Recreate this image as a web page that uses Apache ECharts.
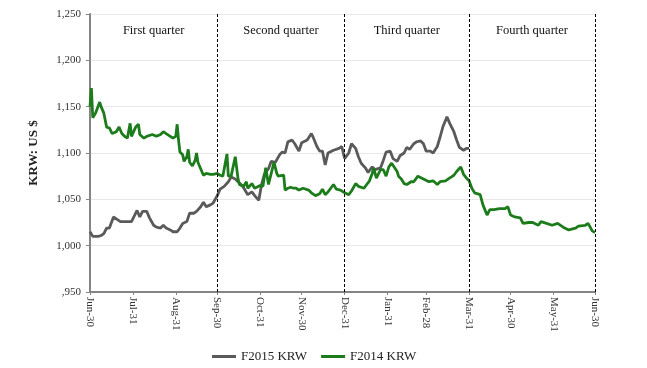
<!DOCTYPE html>
<html>
<head>
<meta charset="utf-8">
<script src="https://cdn.jsdelivr.net/npm/echarts@6/dist/echarts.min.js"></script>
<style>html,body{margin:0;padding:0;background:#fff}#c{width:647px;height:368px}</style>
</head>
<body>
<div id="c"></div>
<script>
// Day offsets from Jun-30 (start of fiscal year) and their labels
const tickDays = [0, 31, 62, 92, 123, 153, 184, 215, 243, 274, 304, 335, 365];
const tickLabels = ['Jun-30','Jul-31','Aug-31','Sep-30','Oct-31','Nov-30','Dec-31','Jan-31','Feb-28','Mar-31','Apr-30','May-31','Jun-30'];
const yTickLabels = [',950','1,000','1,050','1,100','1,150','1,200','1,250'];
const quarterNames = ['First quarter','Second quarter','Third quarter','Fourth quarter'];
const quarterBounds = [0, 92, 184, 274, 365];

// F2015 KRW: [day, value]
const f2015Days = [0,2,6,8,10,12,14,17,19,22,24,25,28,30,31,34,36,38,41,43,46,48,51,53,55,58,60,63,65,67,70,72,75,77,80,82,84,87,89,92,94,97,100,102,105,107,110,112,114,117,119,122,124,126,129,131,134,137,139,141,143,146,148,151,153,157,160,161,164,166,168,170,172,176,180,182,184,187,189,192,194,196,199,201,204,206,210,212,214,217,219,222,224,227,229,231,234,236,239,241,243,246,248,251,253,255,258,260,263,265,267,270,272,274];
const f2015Vals = [1015,1010,1010,1011,1013,1019,1019,1031,1029,1026,1026,1028,1026,1026,1025,1038,1031,1037,1037,1030,1022,1020,1019,1022,1019,1017,1015,1015,1019,1024,1026,1035,1035,1037,1042,1047,1042,1044,1046,1054,1061,1064,1069,1074,1072,1069,1065,1060,1055,1058,1054,1049,1066,1077,1083,1091,1090,1098,1101,1100,1112,1114,1110,1102,1111,1114,1121,1118,1107,1102,1102,1087,1100,1103,1105,1107,1094,1100,1110,1105,1096,1089,1084,1079,1085,1082,1084,1092,1101,1102,1094,1091,1097,1100,1106,1104,1110,1112,1113,1110,1102,1102,1100,1107,1117,1128,1139,1132,1123,1114,1106,1103,1105,1105];

// F2014 KRW: [day, value]
const f2014Days = [0,1,2,4,5,7,8,10,12,13,14,16,17,19,21,23,25,27,29,30,31,33,35,36,39,41,45,46,48,51,53,55,58,60,62,63,64,65,66,67,68,70,71,72,74,76,77,78,80,82,84,87,89,92,94,96,99,100,102,105,107,108,111,113,114,117,119,120,123,125,127,129,130,133,135,136,137,140,141,143,145,147,149,151,154,158,159,160,163,166,168,170,172,174,176,178,181,183,184,187,189,192,194,198,200,202,204,205,207,210,212,214,216,218,219,222,223,225,227,229,230,232,234,237,241,245,248,251,253,257,259,261,263,265,266,268,270,272,274,276,278,282,284,287,289,292,296,300,301,302,304,307,311,313,317,320,324,326,330,334,338,342,346,347,351,353,354,358,360,363,365];
const f2014Vals = [1150,1170,1138,1143,1143,1155,1150,1143,1128,1130,1127,1121,1119,1123,1128,1121,1118,1116,1132,1118,1120,1128,1131,1120,1116,1118,1120,1121,1118,1120,1123,1121,1118,1116,1118,1131,1114,1101,1100,1098,1091,1096,1104,1090,1086,1092,1100,1090,1083,1076,1078,1077,1077,1078,1076,1075,1099,1075,1075,1096,1072,1066,1064,1069,1062,1067,1062,1063,1065,1064,1084,1066,1072,1090,1078,1075,1074,1076,1060,1062,1063,1062,1062,1060,1062,1060,1058,1057,1054,1056,1061,1055,1058,1062,1066,1061,1060,1058,1057,1055,1059,1067,1064,1062,1066,1070,1078,1084,1073,1082,1082,1075,1085,1089,1089,1080,1075,1072,1067,1066,1066,1069,1069,1075,1072,1069,1070,1066,1069,1070,1072,1074,1076,1080,1082,1085,1077,1073,1070,1062,1057,1055,1044,1033,1039,1039,1040,1040,1041,1042,1033,1031,1030,1024,1025,1025,1022,1026,1024,1022,1024,1020,1017,1017,1019,1021,1022,1022,1024,1016,1014];

const serif = "'Liberation Serif', 'Times New Roman', serif";
const categories = Array.from({length: tickDays[tickDays.length - 1] + 1}, (_, i) => String(i));
const labelMap = {};
tickDays.forEach((d, i) => { labelMap[d] = tickLabels[i]; });
const isTick = (i) => Object.prototype.hasOwnProperty.call(labelMap, i);
const pair = (days, vals) => days.map((d, i) => [d, vals[i]]);

const chart = echarts.init(document.getElementById('c'));
chart.setOption({
  animation: false,
  backgroundColor: '#fff',
  grid: { left: 90, right: 52, top: 14, bottom: 76, containLabel: false },
  legend: {
    bottom: 5,
    left: 212,
    padding: 0,
    itemGap: 14,
    icon: 'rect',
    itemWidth: 24,
    itemHeight: 3,
    textStyle: { fontFamily: serif, fontSize: 13, color: '#222' },
    data: ['F2015 KRW', 'F2014 KRW']
  },
  xAxis: {
    type: 'category',
    data: categories,
    boundaryGap: false,
    axisLine: { lineStyle: { color: '#858585', width: 2 } },
    axisTick: { show: true, interval: (i) => isTick(i), length: 3, lineStyle: { color: '#858585' } },
    axisLabel: {
      interval: (i) => isTick(i),
      formatter: (v, i) => labelMap[i] || '',
      rotate: -90,
      margin: 5,
      fontFamily: serif,
      fontSize: 11,
      color: '#333'
    },
    splitLine: { show: false }
  },
  yAxis: {
    type: 'value',
    min: 950,
    max: 1250,
    interval: 50,
    name: 'KRW: US $',
    nameLocation: 'middle',
    nameGap: 50,
    nameTextStyle: { fontFamily: serif, fontSize: 13, fontWeight: 'bold', color: '#222' },
    axisLine: { show: true, lineStyle: { color: '#858585', width: 2 } },
    axisTick: { show: true, length: 4, lineStyle: { color: '#858585' } },
    axisLabel: {
      formatter: (v) => yTickLabels[Math.round((v - 950) / 50)],
      margin: 9,
      fontFamily: serif,
      fontSize: 11,
      color: '#333'
    },
    splitLine: { show: true, lineStyle: { color: '#e8e8e8', width: 1 } }
  },
  series: [
    {
      name: 'F2015 KRW',
      type: 'line',
      data: pair(f2015Days, f2015Vals),
      showSymbol: false,
      symbol: 'none',
      lineStyle: { color: '#5a5a5a', width: 2.8 },
      itemStyle: { color: '#5a5a5a' },
      markArea: {
        silent: true,
        itemStyle: { color: 'rgba(0,0,0,0)' },
        label: { show: true, position: 'insideTop', distance: 10, fontFamily: serif, fontSize: 12.5, color: '#111' },
        data: quarterNames.map((n, i) => [
          { name: n, xAxis: String(quarterBounds[i]) },
          { xAxis: String(quarterBounds[i + 1]) }
        ])
      }
    },
    {
      name: 'F2014 KRW',
      type: 'line',
      data: pair(f2014Days, f2014Vals),
      showSymbol: false,
      symbol: 'none',
      lineStyle: { color: '#1c7c1c', width: 2.8 },
      itemStyle: { color: '#1c7c1c' },
      markLine: {
        silent: true,
        symbol: 'none',
        label: { show: false },
        lineStyle: { color: '#000', type: [3, 2], width: 1 },
        data: quarterBounds.slice(1).map((d) => ({ xAxis: String(d) }))
      }
    }
  ]
});
</script>
</body>
</html>
